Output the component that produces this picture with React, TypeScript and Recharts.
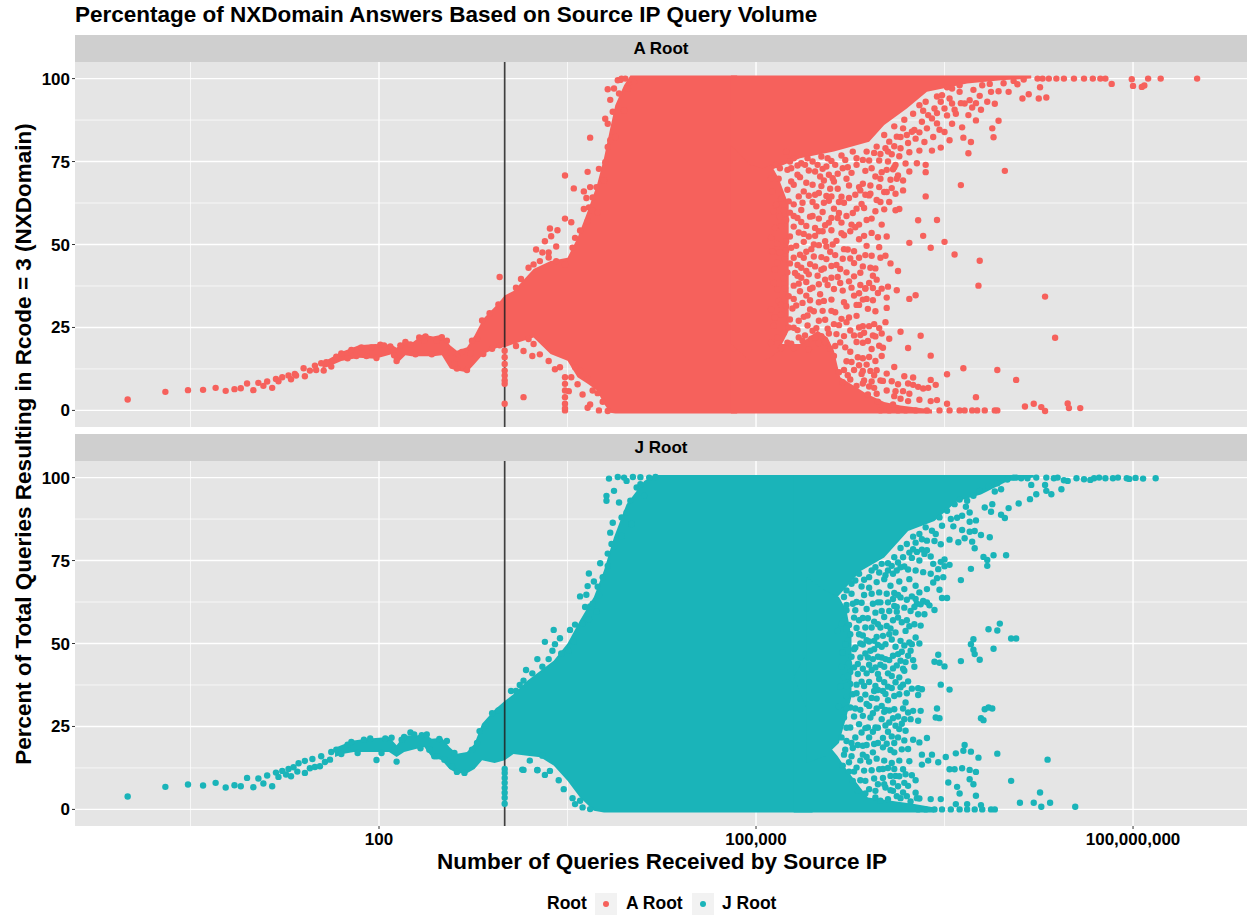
import { ComposedChart, Area, Scatter, XAxis, YAxis, CartesianGrid, ReferenceLine } from 'recharts'

// every row is [log10(queries), percent]; bands are [log10(queries), low, high]
const xTicks = [100, 100000, 100000000]
const xMinor = [3.1623, 3162.3, 3162278]
const yTicks = [0, 25, 50, 75, 100]
const yMinor = [12.5, 37.5, 62.5, 87.5]
const cutoffQueries = 1000

const aCoreBand = [
  [1.55, 12.6, 14.4], [1.6, 13.2, 15.5], [1.7, 14.9, 17.6], [1.84, 15.9, 19.6], [1.97, 15.6, 20], [2.1, 16.9, 19.8], [2.14, 14, 18.9],
  [2.21, 16.6, 21.3], [2.26, 16.3, 20.3], [2.35, 16.3, 22.9], [2.43, 16.3, 22.3], [2.5, 16.6, 22.8], [2.565, 12.6, 19.6],
  [2.62, 12, 18], [2.7, 11.5, 19], [2.76, 14, 22.6], [2.83, 17, 27.6], [2.95, 19, 32.3], [3, 19, 34.6], [3.07, 20, 36],
  [3.23, 22, 42.6], [3.365, 17, 45], [3.5, 15, 46], [3.58, 10, 52], [3.66, 8, 60], [3.735, 6, 68], [3.79, 2, 76],
  [3.84, -0.7, 85], [3.88, -0.9, 92], [3.95, -0.9, 98], [4, -0.9, 100.9], [4.85, -0.9, 100.9],
]
const aTopBand = [
  [4.8, 60, 100.9], [4.98, 68, 100.9], [5.09, 72, 100.9], [5.35, 76, 100.9], [5.62, 78, 100.9], [5.9, 81, 100.9],
  [6.02, 86, 100.9], [6.2, 91, 100.9], [6.36, 96, 100.9], [6.68, 98.5, 100.9], [6.95, 99.5, 100.9], [7.19, 100, 100.9],
]
const aBottomBand = [
  [4.8, -0.9, 42], [4.98, -0.9, 27], [5.09, -0.9, 20], [5.22, -0.9, 20], [5.35, -0.9, 20], [5.49, -0.9, 24], [5.57, -0.9, 22], [5.62, -0.9, 18],
  [5.67, -0.9, 10], [5.88, -0.9, 5], [6.02, -0.9, 2.5], [6.15, -0.9, 1.5], [6.4, -0.9, 0.3],
]
const aMidBand = [[4.8, 20, 80], [4.95, 15, 74], [5.05, 15, 73], [5.12, 16, 74], [5.18, 18, 70], [5.26, 24, 62]]

const aLow = [
  [0, 3.3], [0.3, 5.6], [0.48, 6.1], [0.6, 6.2], [0.7, 6.8], [0.78, 5.9], [0.85, 6.4], [0.9, 6.7], [0.95, 8.1], [1, 6.1],
  [1.04, 8.3], [1.08, 7.4], [1.11, 8.7], [1.15, 6.8], [1.18, 9.5], [1.2, 8.8], [1.23, 10], [1.28, 10.5], [1.3, 9.4], [1.33, 11],
  [1.34, 10.5], [1.4, 12.7], [1.41, 10.3], [1.45, 12], [1.49, 13.5], [1.5, 12.2], [1.54, 14.2], [1.56, 12],
  [1.86, 19], [1.94, 19], [2.01, 19.8], [2.09, 19.3], [2.14, 14.9], [2.21, 20.6], [2.29, 16.9], [2.37, 22.3], [2.42, 16.9],
  [2.5, 22.1], [2.62, 12.6], [2.7, 12.2], [2.63, 16.9], [2.78, 21.6], [2.82, 27.1], [2.88, 29.3], [2.95, 31.9], [2.83, 17],
  [2.9, 18.6], [2.96, 19.6], [2.96, 40.2], [3, 18], [3, 16], [3, 14], [3, 12], [3, 10.5], [3, 9], [3, 8], [3, 2], [3.15, 4],
  [3.48, 10], [3.48, 8], [3.48, 6], [3.48, 4], [3.48, 2], [3.48, 0.6], [3.48, 0],
  [1.58, 14.5], [1.62, 13.2], [1.66, 16.2], [1.7, 17.2], [1.75, 15.7], [1.78, 18.2], [1.82, 16.4], [1.9, 16.4], [1.98, 15.8], [2.04, 19.6],
  [2.12, 16.6], [2.17, 19.6], [2.25, 19.9], [2.32, 22], [2.36, 21], [2.46, 21], [2.54, 21], [2.57, 17.4], [2.6, 14], [2.66, 17.6], [2.73, 17.2], [2.74, 21],
]
const aEdges = [
  [3.82, 96.8], [3.68, 82.2], [3.48, 70.8], [3.66, 71.9], [3.75, 72.8], [3.55, 66.9], [3.63, 66], [3.68, 67.3], [3.73, 67.3],
  [3.65, 64], [3.7, 64.2], [3.67, 61.2], [3.63, 60.7], [3.7, 60.2], [3.74, 59.7], [3.48, 57.8], [3.53, 56.7], [3.36, 54.8],
  [3.42, 54.3], [3.37, 52.5], [3.32, 51], [3.41, 49.4], [3.25, 48.5], [3.3, 47.6], [3.35, 47.6], [3.6, 54.2], [3.56, 52],
  [3.66, 57], [3.54, 49], [3.19, 43], [3.13, 39.6], [3.09, 37], [3.82, 86.4], [3.8, 87.9], [3.9, 99.5], [3.96, 100], [4.03, 99],
  [3.91, 95.5], [3.95, 90.4], [3.84, 81.4], [3.82, 79.4], [3.88, 82.4], [3.8, 74.8], [3.79, 69.3], [3.19, 21.5], [3.23, 20],
  [3.22, 16.4], [3.28, 16.9], [3.35, 14.9], [3.4, 12.4], [3.58, 7.9], [3.51, 5.8], [3.62, 4.8], [3.66, 0.8], [3.75, 0],
  [3.82, -0.2], [3.68, 1.8], [3.09, 19.4], [3.15, 17.9], [3.23, 44], [3.28, 45], [3.35, 46.1], [3.41, 45], [3.48, 44],
  [3.86, 90], [3.84, 93.6], [3.92, 99.6], [3.87, 97], [3.93, 100], [3.98, 97], [3.6, 12], [3.66, 9.5], [3.7, 6], [3.74, 5.2], [3.78, 2.6],
  [3.44, 13], [3.53, 10], [3.56, 13],
]
const aCloud = [
  [5.33, 73.8], [5.42, 72.3], [5.53, 72.8], [5.65, 71.3], [5.73, 73.3], [5.82, 67.3], [5.91, 67.8], [6, 71.8], [6.1, 73.3], [6.12, 69.8],
  [5.9, 64.8], [6.02, 65.8], [5.65, 66.8], [5.74, 67.8], [5.54, 69.3], [5.35, 70.3], [5.18, 69.8], [5.25, 66.5], [5.3, 62.1], [5.22, 60.2],
  [5.42, 64.7], [5.48, 61.5], [5.58, 63.2], [5.62, 60.8], [5.7, 62.6], [5.77, 59.5], [5.84, 62.2], [5.95, 60], [5.88, 57.4], [5.79, 55.2],
  [5.68, 56.6], [5.6, 54.3], [5.5, 57.8], [5.4, 55.6], [5.33, 58], [5.2, 55.5], [5.27, 52.4], [5.38, 50.8], [5.47, 52.6], [5.56, 49.4],
  [5.64, 51.1], [5.73, 48.5], [5.82, 51.6], [5.92, 53.5], [6, 56], [6.04, 52.4], [5.98, 49.2], [5.87, 46.8], [5.78, 44.4], [5.69, 45.7],
  [5.6, 43.5], [5.52, 46.2], [5.43, 44.1], [5.35, 46.9], [5.27, 44.3], [5.19, 47.6], [5.15, 42.5], [5.22, 39.8], [5.31, 41.4], [5.4, 38.7],
  [5.49, 40.6], [5.57, 37.8], [5.65, 40.2], [5.74, 38.9], [5.83, 41.5], [5.91, 43], [5.99, 46], [6.07, 44.3], [5.96, 39.4], [5.87, 36.8],
  [5.78, 34.6], [5.69, 36.1], [5.6, 33.4], [5.51, 35], [5.43, 33.2], [5.35, 35.9], [5.26, 34.4], [5.17, 36.5], [5.12, 30.5], [5.2, 28.8],
  [5.29, 30.7], [5.38, 28.2], [5.46, 29.9], [5.55, 27.3], [5.63, 29.6], [5.72, 31.4], [5.8, 28.5], [5.89, 30.6], [5.85, 25.4], [5.75, 24.1],
  [5.66, 25.7], [5.58, 23.2], [5.48, 24.8], [5.39, 22.6], [5.3, 24.9], [5.22, 23.3], [5.14, 25.5], [5.12, 20.3], [5.2, 18.8], [5.28, 20.1],
  [5.42, 18.4], [5.5, 20.3], [5.59, 18.6], [5.67, 20.5], [5.75, 17.7], [5.8, 20.6], [5.72, 14.8], [5.78, 12.2], [5.81, 16], [5.66, 11.5],
  [5.62, 16.4], [5.69, 8.5], [5.75, 9.3], [5.8, 7.4], [5.86, 9], [5.9, 7.2], [5.24, 78], [5.3, 76], [5.45, 75], [5.52, 76.5], [5.6, 75.2],
  [5.68, 76.8], [5.77, 78], [5.85, 75.5], [5.94, 77.6], [6.03, 79], [5.98, 75.3], [5.92, 73], [5.14, 60], [5.12, 52], [5.17, 50.2],
  [5.24, 48.2], [5.3, 46], [5.36, 43], [5.44, 48.6], [5.55, 55.8], [5.45, 68], [5.38, 66], [5.5, 65.5], [5.25, 72.5], [5.2, 63.8], [5.16, 74],
]
const aCloudExtra = [
  [5.12, 70], [5.19, 73], [5.27, 75], [5.36, 74.5], [5.41, 76], [5.49, 74], [5.57, 76], [5.63, 74], [5.71, 75.5], [5.8, 76], [5.88, 78],
  [5.96, 79.5], [6.06, 81], [6.12, 82.5], [6.17, 85], [6.24, 84], [6.32, 87], [6.37, 89], [6.42, 91], [6.48, 95], [6.54, 94], [6.62, 96],
  [6.66, 92.5], [6.58, 90.6], [6.44, 86.5], [6.3, 83.8], [6.15, 79], [6.08, 77.2], [6.22, 77.8], [6.26, 84.5], [6.36, 85], [6.41, 82.4],
  [6.5, 91], [6.73, 96.6], [6.8, 98], [6.86, 98.4], [6.97, 98.6], [7.05, 99.3], [7.13, 99.7], [5.13, 66], [5.16, 62], [5.19, 58.4], [5.15, 55],
  [5.13, 48], [5.17, 44.6], [5.14, 38.4], [5.18, 33], [5.15, 28], [5.17, 22], [5.2, 31.8], [5.23, 36.8], [5.25, 41.6], [5.23, 45.6], [5.24, 51],
  [5.24, 57.4], [5.26, 63], [5.28, 69], [5.3, 55.4], [5.32, 49.6], [5.33, 43.8], [5.34, 38.2], [5.3, 33.6], [5.34, 27], [5.27, 27.4], [5.25, 20.4],
  [5.34, 22], [5.36, 60.4], [5.38, 53.2], [5.4, 47.8], [5.4, 42], [5.37, 32.4], [5.43, 36.6], [5.43, 30.4], [5.41, 25.6], [5.44, 21.6], [5.45, 58.6],
  [5.47, 55], [5.46, 50], [5.47, 43.4], [5.5, 38], [5.5, 32.6], [5.5, 27], [5.52, 22.4], [5.53, 59.8], [5.53, 54], [5.54, 42.8], [5.55, 51],
  [5.56, 64.6], [5.58, 71], [5.6, 58], [5.6, 40], [5.6, 30], [5.62, 26], [5.63, 46.8], [5.66, 62.8], [5.67, 42.6], [5.7, 52.8], [5.72, 41.6],
  [5.7, 22.4], [5.74, 28], [5.76, 56], [5.78, 40.4], [5.8, 31.8], [5.82, 46], [5.83, 37.8], [5.86, 23.4], [5.88, 33.6], [5.93, 33.2], [5.94, 26],
  [5.92, 18.5], [5.98, 19.5], [5.98, 24.8], [6.03, 26.6], [6.06, 21.6],
]
const aCloudDense = [
  [5.28, 73], [5.33, 71], [5.39, 74], [5.47, 72], [5.51, 70.5], [5.56, 73.5], [5.61, 70], [5.69, 73], [5.76, 71.6], [5.8, 74], [5.87, 72.2], [5.95, 70.5],
  [6.05, 75], [6.07, 69.5], [6.14, 76.6], [6.28, 74.5], [6.22, 72], [5.9, 75.3], [5.99, 77.3], [6.04, 72.5], [5.3, 68], [5.34, 64.5], [5.4, 68.6], [5.47, 65],
  [5.52, 67.6], [5.59, 66.8], [5.62, 69], [5.68, 64.4], [5.72, 69.8], [5.79, 65], [5.87, 65], [5.86, 61], [5.8, 60.8], [5.74, 64], [5.66, 59.5], [5.6, 64.5],
  [5.54, 62.6], [5.45, 62.8], [5.37, 62.6], [5.27, 59.6], [5.96, 63.4], [6.02, 60.6], [6.06, 62.8], [6.08, 67], [5.3, 58.6], [5.36, 56.8], [5.43, 58.4],
  [5.42, 52.4], [5.5, 54], [5.58, 56.6], [5.65, 58], [5.72, 58.6], [5.75, 54], [5.82, 56], [5.86, 52.6], [5.92, 57.8], [5.97, 52.2], [5.68, 53.4], [5.61, 50],
  [5.5, 49.8], [5.34, 53.6], [5.28, 49], [5.33, 40.6], [5.38, 46], [5.42, 41], [5.46, 46.4], [5.56, 45.6], [5.59, 47.8], [5.64, 43.8], [5.7, 48.6], [5.75, 45.8],
  [5.85, 43.4], [5.88, 49.6], [5.92, 46.6], [5.95, 42.8], [6.03, 46.6], [5.78, 48], [5.52, 42.4], [5.67, 38.4], [5.3, 37.6], [5.36, 40], [5.45, 37], [5.54, 33],
  [5.55, 39.4], [5.62, 36.6], [5.7, 32.6], [5.76, 37], [5.82, 31.8], [5.85, 33.4], [5.9, 38.4], [5.93, 40.6], [5.97, 35.4], [6.04, 34], [5.4, 34.6], [5.32, 31.6],
  [5.24, 31.4], [5.26, 25], [5.33, 24.2], [5.41, 28.6], [5.45, 24], [5.53, 30], [5.57, 24.6], [5.64, 23], [5.68, 27.6], [5.72, 26.6], [5.78, 22.6], [5.82, 25],
  [5.85, 20.4], [5.9, 25.4], [5.93, 22.6], [6, 23.2], [5.3, 18.8], [5.37, 21], [5.47, 22], [5.55, 20.6], [5.63, 19.4], [5.71, 19], [5.7, 12.2], [5.73, 10.6],
  [5.76, 14.6], [5.84, 11], [5.82, 13.6], [5.88, 13.8], [5.94, 10.6], [5.99, 9], [5.89, 4.8], [5.96, 5], [6.04, 6], [6.08, 8.8], [6.15, 3.5], [6.17, 5.8],
  [6.22, 5], [6.3, 3.2], [5.92, 8.7], [6.02, 83], [6.1, 85.6], [6.05, 78], [6.18, 87.6], [6.25, 89.4], [6.3, 92], [6.35, 93], [6.44, 94.6], [6.56, 97],
  [6.63, 92.6], [6.62, 98], [6.52, 97.4], [6.4, 88], [6.33, 90.3], [6.2, 83], [6.15, 82.4], [6.1, 79.6], [6.44, 89.6], [6.56, 92.5], [6.72, 91.3], [6.75, 92.6],
  [6.79, 90.6],
]
const aOutliers = [
  [7.24, 100], [7.28, 100], [7.33, 100], [7.39, 100], [7.45, 100], [7.53, 100], [7.61, 100], [7.68, 100], [7.74, 100], [7.78, 100],
  [7.83, 98.4], [7.99, 99.8], [8, 97.8], [8.07, 97.5], [8.09, 97.9], [8.12, 100], [8.22, 100], [8.51, 100], [7.26, 97.4], [7.25, 94],
  [7.31, 94.3], [7.12, 94], [7.17, 95.3], [7.01, 96], [7.08, 98.3], [6.93, 96.2], [6.87, 96], [6.78, 94.8], [6.9, 92.4], [6.84, 93],
  [6.7, 93.5], [6.69, 89], [6.75, 87.4], [6.93, 87.3], [6.88, 85], [6.64, 85.3], [6.89, 82.3], [6.65, 82.2], [6.71, 80.9], [6.69, 77.5],
  [6.56, 86.4], [6.5, 83.9], [6.46, 84.6], [6.54, 81.4], [6.47, 79.2], [6.4, 78.3], [6.34, 80.9], [6.27, 81.9], [6.21, 80.6], [6.3, 78.3],
  [6.59, 89.4], [6.52, 88.9], [6.47, 93], [6.98, 72.2], [6.63, 67.9], [6.35, 74], [6.35, 71.8], [6.35, 64.5], [6.19, 74.4], [6.11, 74],
  [6.09, 72.7], [6.13, 70.8], [6.17, 69.3], [6.17, 66.3], [6.11, 65.3], [6.04, 65.8], [5.99, 69.8], [5.98, 67.3], [5.91, 65.3], [5.85, 68.3],
  [5.83, 66.3], [5.99, 62.8], [6.14, 60.7], [6.11, 60.3], [6.29, 57.3], [6.44, 57.4], [6.33, 52.6], [6.22, 50.5], [6.39, 49], [6.5, 50.8],
  [6.58, 47], [6.78, 45.1], [6.13, 42], [6.77, 37.6], [6.27, 34.7], [6.22, 33.6], [6.12, 36.2], [6.05, 37.3], [6, 36.7], [5.93, 36.9],
  [5.87, 36.7], [5.82, 35.3], [5.95, 29.9], [6.04, 30.9], [7.3, 34.3], [7.38, 21.9], [6.15, 23.7], [6.31, 22.5], [5.95, 22.3], [5.83, 22.7],
  [5.89, 20.9], [6.21, 18.8], [6.39, 16.5], [6.01, 18.9], [6, 16.4], [5.9, 16.1], [5.85, 15.7], [5.95, 14.9], [6.1, 13.1], [5.96, 12.1],
  [5.91, 11.9], [5.85, 11.9], [6.04, 11.1], [6.52, 10.9], [6.65, 12.7], [6.92, 12.2], [7.07, 9.2], [6.18, 10.3], [6.25, 9.9], [6.39, 9.2],
  [6.21, 8.1], [6.25, 7.7], [6.29, 7.1], [6.33, 6.6], [6.37, 6.8], [6.43, 7.7], [6.13, 7.9], [6.11, 5.8], [6.1, 4.3], [6.01, 8.9],
  [5.94, 6.8], [5.85, 8.1], [5.97, 2.6], [6.21, 2.8], [6.09, 1.8], [6.39, 2.8], [6.44, 3.1], [6.75, 4], [5.99, 0], [6.06, 0], [6.13, 0],
  [6.19, 0], [6.27, 0], [6.36, 0], [6.46, 0], [6.54, 0], [6.62, 0], [6.66, 0], [6.72, 0], [6.76, 0], [6.82, 0], [6.9, 0], [6.92, 0],
  [7.14, 1.2], [7.21, 2], [7.27, 1], [7.3, -0.2], [7.48, 2.1], [7.49, 0.7], [7.58, 0.7], [6.52, 2],
]

const jCoreBand = [
  [1.65, 15.8, 18.6], [1.72, 16.8, 19.6], [1.8, 17.3, 20.8], [1.9, 17.3, 21.3], [2, 17.3, 21.6], [2.08, 17.3, 21.8], [2.14, 15.8, 19.3],
  [2.2, 17.3, 22.3], [2.3, 18.3, 22.3], [2.36, 18.8, 22.8], [2.42, 15.8, 21.3], [2.5, 14.8, 21.6], [2.56, 12.2, 18.8], [2.62, 10.9, 16.8],
  [2.7, 10.9, 17.3], [2.76, 12.2, 19.8], [2.82, 14.8, 25.8], [2.92, 14, 30], [3, 14.8, 32.7], [3.07, 16.7, 34.7], [3.18, 16.2, 38.8],
  [3.285, 15.7, 41.8], [3.39, 13.2, 44.8], [3.5, 8.6, 50], [3.6, 3.6, 57], [3.71, -0.4, 64], [3.79, -0.9, 72], [3.87, -0.9, 82],
  [3.97, -0.9, 92], [4.11, -0.9, 99], [4.19, -0.9, 100.8], [5.45, -0.9, 100.8],
]
const jTopBand = [
  [5.3, 40, 100.8], [5.45, 50, 100.8], [5.62, 62.8, 100.8], [5.83, 71.8, 100.8], [6.02, 75.9, 100.8], [6.21, 83.9, 100.8],
  [6.42, 86.9, 100.8], [6.6, 92.9, 100.8], [6.79, 94.9, 100.8], [7, 98.9, 100.8], [7.21, 100, 100.8],
]
const jBottomBand = [
  [5.3, -0.9, 40], [5.45, -0.9, 26], [5.52, -0.9, 22], [5.65, -0.9, 16], [5.72, -0.9, 12], [5.89, -0.9, 3.6], [6.26, -0.9, 1.6], [6.42, -0.9, 0.6],
]
const jMidBand = [[5.4, 14, 70], [5.55, 16, 66], [5.66, 20, 64], [5.72, 28, 60], [5.76, 34, 52]]

const jLow = [
  [0, 3.9], [0.3, 6.8], [0.48, 7.5], [0.6, 7.2], [0.7, 8], [0.78, 6.6], [0.85, 7.3], [0.9, 7], [0.95, 9.5], [1, 6.7], [1.04, 9.3],
  [1.08, 7.8], [1.11, 10.2], [1.15, 7], [1.18, 11.1], [1.2, 9.8], [1.23, 11.6], [1.26, 10.5], [1.28, 12.2], [1.3, 10], [1.32, 12.7],
  [1.35, 11.4], [1.36, 13.9], [1.41, 11], [1.41, 14.6], [1.45, 12.4], [1.47, 15.2], [1.49, 12.8], [1.53, 13], [1.54, 16], [1.57, 14.3],
  [1.62, 17.3], [1.61, 15], [1.98, 14.9], [2.14, 14.4], [2.25, 23.2], [2.95, 29.8], [3, 12.2], [3, 11], [3, 9.5], [3, 8], [3, 6.5],
  [3, 5], [3, 3.5], [3, 1.7], [3.14, 12], [3.26, 11.9], [1.75, 19.5], [1.88, 21], [2.05, 21.4], [2.2, 21.8], [2.34, 22.4], [2.48, 21.2],
  [2.62, 11.3], [2.68, 11], [2.58, 13], [2.78, 20], [2.85, 25.2], [2.9, 29], [2.33, 18.4], [2.44, 16], [2.52, 15],
  [1.66, 18], [1.7, 16.7], [1.78, 20.3], [1.83, 17], [1.93, 21.4], [2.02, 17], [2.1, 21.6], [2.12, 18], [2.18, 21], [2.28, 22.6], [2.38, 22.6],
  [2.4, 18], [2.46, 16], [2.54, 20.6], [2.6, 17], [2.74, 18], [2.8, 23.6],
]
const jEdges = [
  [3.83, 99.7], [3.9, 100.2], [3.97, 99], [3.81, 94.5], [3.81, 93], [3.87, 96], [3.91, 92.5], [3.86, 86.4], [3.84, 83.4], [3.93, 82.4],
  [3.87, 79.4], [3.82, 77.1], [3.76, 74.2], [3.82, 73.4], [3.67, 71.1], [3.71, 68.7], [3.66, 67.3], [3.74, 67.1], [3.6, 64.2], [3.65, 64.7],
  [3.75, 64.6], [3.64, 61], [3.68, 61.2], [3.73, 59.6], [3.67, 57.3], [3.56, 55.7], [3.39, 54.1], [3.52, 54.1], [3.44, 51.6], [3.32, 50.5],
  [3.4, 49.8], [3.38, 47.8], [3.51, 47.8], [3.26, 45.3], [3.35, 45.3], [3.17, 42], [3.05, 35.7], [3.09, 35.7], [3.15, 38.8], [4.11, 94.5],
  [4.05, 97], [3.97, 89.5], [4.01, 86], [3.15, 11.9], [3.26, 11.8], [3.32, 10.4], [3.2, 14.7], [3.3, 16.2], [3.36, 11.6], [3.43, 8.8],
  [3.47, 6.1], [3.54, 3.4], [3.56, 1.6], [3.62, 0.6], [3.68, 0.1], [3.6, 2.6], [3.78, 70], [3.85, 80], [3.93, 88], [4, 93], [4.08, 98], [4.15, 100],
  [4.2, 100.2], [3.7, 62], [3.62, 56], [3.55, 50.5], [3.45, 47], [3.3, 43], [3.22, 41], [3.12, 37.5], [3.95, 100], [4.02, 100.2], [4.08, 100.1],
]
const jCloud = [
  [6.02, 69.4], [6.07, 67.4], [6.14, 68.7], [6.22, 69.4], [6.27, 67.4], [6.36, 66.4], [6.3, 65.4], [6.18, 66.4], [6.15, 63.9], [6.05, 62.4],
  [6.1, 61.3], [5.99, 62.4], [6.27, 63.4], [6.23, 59.8], [6.18, 60.8], [6.13, 57.8], [6.06, 59.8], [5.95, 59.3], [6.34, 58.8], [6.29, 58.8],
  [6.26, 55.8], [6.19, 53.8], [6.27, 51.8], [6.22, 50.3], [6.23, 47.8], [6.21, 46.3], [6.15, 44.8], [6.09, 46.3], [6.11, 49], [6.15, 50.8],
  [6.11, 53.3], [6.06, 52.8], [6.01, 52.3], [5.97, 55.8], [5.99, 54.8], [5.87, 54.8], [5.78, 57.8], [5.7, 56.8], [5.65, 53.8], [5.75, 52.8],
  [5.82, 52.8], [5.94, 50.8], [6.03, 49.8], [5.94, 48.3], [5.89, 45.8], [6, 45.8], [6.03, 45.3], [5.93, 45.3], [5.83, 45.8], [5.78, 48.3],
  [5.69, 47.3], [5.73, 50.8], [5.81, 40.8], [5.95, 42.8], [5.99, 43.6], [6.09, 42.5], [6.18, 41.8], [6.14, 39.8], [6.11, 38.3], [6.21, 38.6],
  [5.98, 39.3], [6.02, 38.3], [5.95, 37.2], [5.86, 37.2], [5.75, 37.8], [5.7, 39.8], [5.81, 43.8], [6.01, 35.7], [5.94, 35.7], [6.14, 34.7],
  [6.1, 34.2], [6.05, 32.9], [6, 31.2], [5.9, 31.2], [5.83, 33.2], [5.77, 34.7], [5.75, 30.7], [5.85, 28.2], [5.91, 27.7], [6, 27.2],
  [6.06, 26.2], [6.1, 30.2], [6.21, 29.2], [6.25, 29.7], [6.31, 29.7], [6.18, 27.2], [6.23, 27.2], [6.29, 26.7], [6.11, 25.2], [6.14, 24.2],
  [6.19, 23.7], [6.13, 21.7], [6.01, 21.5], [5.89, 24.7], [5.82, 25.7], [5.75, 24.7], [5.7, 27.7], [5.68, 21.7], [5.79, 21.7], [5.9, 21.7],
  [5.85, 19.2], [5.94, 19.7], [6.01, 18.7], [6.07, 17.9], [6.16, 18.1], [6.21, 18.2], [5.93, 17.2], [5.83, 14.7], [5.74, 14.2], [5.69, 13.2],
  [5.86, 11.7], [5.98, 12.1], [6.05, 12.5], [6.14, 14.7], [6.17, 12.1], [6.11, 10.1], [6.07, 10.1], [6.19, 10.6], [6.24, 10.3], [6.27, 8.8],
  [6.21, 7.1], [6.09, 8.1], [5.94, 9.3], [5.97, 7.6], [5.83, 8.8], [5.77, 8.6], [6.09, 5.6], [6.17, 5.1], [5.9, 6.1], [5.95, 3.6], [6.05, 3.1],
  [6.15, 3.4], [5.99, 2.6], [6.23, 2.4], [5.72, 60], [5.8, 62.5], [5.88, 60.4], [5.92, 65], [5.84, 67.2], [5.76, 65], [5.68, 43], [5.74, 44],
  [5.72, 34], [5.66, 31], [5.8, 37.6], [5.88, 41], [5.9, 50.6], [5.85, 49.7], [5.71, 18], [5.77, 18.5], [5.87, 34.6], [5.96, 33.4], [6.05, 41],
  [6.09, 57], [5.92, 54.8], [6.02, 58], [5.98, 65.4], [6.1, 65.2],
]
const jCloudExtra = [
  [5.7, 64], [5.76, 68], [5.82, 71], [5.9, 70], [5.95, 73], [6, 74], [6.05, 74.2], [6.1, 76], [6.15, 78.8], [6.2, 80], [6.25, 82.2], [6.3, 83],
  [6.35, 85], [6.4, 84], [6.46, 88], [6.52, 90], [6.58, 92], [6.62, 93.4], [6.68, 93], [6.73, 94.5], [6.78, 96], [6.85, 97.4], [6.92, 98.3], [7, 99.4],
  [7.07, 100], [6.12, 72], [6.18, 73.2], [6.24, 75.8], [6.3, 75], [6.34, 77], [6.39, 76.2], [6.03, 70.6], [6.09, 71], [5.96, 68.5], [5.9, 66.8],
  [6.33, 71.5], [6.39, 71], [6.41, 74], [6.38, 61.5], [6.33, 62.8], [6.24, 64.2], [6.2, 57], [6.28, 62], [6.3, 50], [6.18, 49.4], [6.25, 45], [6.12, 43.4],
  [6.05, 37], [5.96, 30.4], [5.79, 30.4], [5.84, 38.5], [5.9, 38.4], [5.92, 42], [5.75, 41.4], [5.79, 48.8], [5.82, 57], [5.89, 57.6], [5.93, 62],
  [5.84, 62.3], [5.77, 62], [5.74, 55.6], [5.67, 37], [5.72, 24.6], [5.78, 28], [5.87, 24.5], [5.95, 24.7], [6.05, 23.4], [6.08, 22], [6.17, 30.4],
  [6.2, 35], [6.17, 37.6], [6.06, 29.8], [6.02, 29.4], [5.85, 16.5], [5.9, 14.4], [5.96, 15.3], [6.02, 14.7], [6.08, 14], [6.1, 20], [6.25, 21], [6.22, 14.5],
  [6.18, 8], [6.13, 7], [6.03, 6.6], [6.01, 9.5], [5.87, 8.6], [5.78, 11.4], [5.7, 16.5], [5.97, 46], [6.07, 54.5], [5.96, 52], [5.88, 51], [6.16, 47.5],
  [6.12, 61], [6.26, 43],
]
const jCloudDense = [
  [5.72, 66], [5.79, 69], [5.86, 69.2], [5.92, 72], [5.98, 71.4], [6.05, 72], [6.15, 73], [6.21, 72.3], [6.27, 72], [6.28, 77.6], [6.36, 81], [6.43, 83],
  [6.48, 85.5], [6.55, 87.5], [6.6, 87.9], [6.67, 91.2], [6.32, 78.3], [6.22, 77.4], [6.17, 76], [6.13, 74.4], [6.08, 73.4], [5.86, 64.6], [5.72, 61.6],
  [5.79, 60], [5.85, 57.7], [5.97, 62.4], [6, 59.8], [6.04, 65], [6.09, 63.4], [6.13, 64.6], [6.2, 63.2], [6.26, 61], [6.31, 61.8], [6.36, 62.4], [6.12, 59.6],
  [6.16, 56.4], [6.22, 55.2], [6.31, 55.4], [6.04, 55.3], [6.08, 51.2], [6, 49], [5.97, 49.6], [5.91, 47.8], [5.87, 47], [5.83, 50], [5.76, 46], [5.71, 49.7],
  [5.68, 56], [5.72, 54.4], [5.8, 54.7], [5.85, 52.4], [5.94, 56.6], [5.73, 40.2], [5.78, 42.8], [5.85, 42.4], [5.9, 43.6], [5.97, 40.8], [6.02, 43], [6.06, 45],
  [6.13, 46.8], [6.19, 44.4], [6.24, 49.8], [6.17, 42.4], [6.08, 40.2], [6.15, 36.8], [6.24, 36.4], [6.19, 32.2], [6.08, 36.6], [6.03, 34.8], [5.97, 36],
  [5.92, 33.6], [5.88, 31.8], [5.8, 35], [5.72, 30.4], [5.72, 37.2], [5.83, 30], [5.93, 29], [6.03, 30], [6.13, 28], [6.16, 25.8], [6.09, 27.5], [6.03, 25.3],
  [5.97, 24.6], [5.93, 23.4], [5.84, 23.2], [5.72, 20.6], [5.76, 20], [5.81, 19.4], [5.88, 19.4], [5.97, 20], [6.04, 19.8], [6.1, 17.2], [6.18, 20.8], [5.88, 15.8],
  [5.8, 12.6], [5.74, 11.4], [5.76, 16], [5.92, 11.8], [6.01, 12.2], [6.1, 12.2], [6.14, 10], [6.02, 7.6], [5.95, 5.6], [6.07, 5.8], [5.81, 5.6], [5.87, 4.8],
  [6.12, 4], [6.2, 4], [6.28, 3.4], [6.27, 5],
]
const jOutliers = [
  [7.55, 99.8], [7.61, 99.5], [7.66, 99.3], [7.69, 99.8], [7.73, 100], [7.78, 99.8], [7.84, 99.8], [7.88, 100], [7.95, 99.8], [7.97, 99.6],
  [8.02, 99.9], [8.08, 99.7], [8.18, 99.8], [7.4, 100], [7.45, 99.2], [7.48, 99], [7.37, 99.8], [7.31, 100], [7.23, 100], [7.16, 99.8],
  [7.11, 99.8], [7.05, 100], [7.19, 97.8], [7.3, 97.8], [7.31, 96], [7.35, 95], [7.43, 96.5], [7.23, 95], [7.18, 93.5], [7.09, 92.2],
  [7.01, 90.8], [6.95, 96.5], [6.9, 95.8], [6.88, 92], [6.87, 89.7], [6.95, 88.8], [6.98, 87.8], [6.82, 91], [6.7, 89.5], [6.64, 88.5],
  [6.7, 86.7], [6.75, 87.1], [6.57, 85.3], [6.64, 84.2], [6.7, 83.7], [6.74, 83.9], [6.79, 82.7], [6.86, 82], [6.66, 81.7], [6.72, 80.7],
  [6.61, 80.5], [6.74, 78.7], [6.54, 81.3], [6.47, 79.9], [6.42, 80.9], [6.32, 81.4], [6.27, 80.4], [6.36, 78.1], [6.25, 78.4], [6.81, 76.1],
  [6.89, 76.6], [6.99, 76.6], [6.84, 75.2], [6.84, 73.4], [6.5, 75.3], [6.47, 74.6], [6.54, 73.7], [6.5, 73.3], [6.71, 72.5], [6.45, 72.4],
  [6.63, 69.1], [6.49, 70], [6.44, 69.7], [6.41, 68.4], [6.46, 66.2], [6.52, 63.7], [6.48, 63.7], [6.42, 60.1], [6.94, 56], [6.85, 54.3],
  [6.92, 53.9], [7.03, 51.5], [7.07, 51.5], [6.73, 51.3], [6.71, 49.8], [6.73, 48.1], [6.74, 46.8], [6.78, 45.1], [6.89, 48.4], [6.63, 44.7],
  [6.45, 46.6], [6.42, 44.5], [6.46, 44.2], [6.5, 43.1], [6.47, 37.6], [6.54, 36.1], [6.29, 36.5], [6.32, 36.2], [6.29, 34.5], [6.44, 30.4],
  [6.43, 27.7], [6.46, 27.5], [6.82, 30.2], [6.85, 30.7], [6.88, 30.4], [6.79, 27.5], [6.81, 26.9], [6.36, 21.5], [6.3, 20.2], [6.66, 19.4],
  [6.65, 17.7], [6.71, 17.4], [6.59, 16.9], [6.77, 15.6], [6.92, 16.8], [7.32, 15], [6.51, 15.8], [6.4, 16.5], [6.32, 16.5], [6.32, 13.5],
  [6.37, 14.7], [6.45, 14.2], [6.54, 12.1], [6.58, 12.1], [6.64, 12.4], [6.7, 11.9], [6.75, 11.3], [6.7, 9.1], [6.73, 7.6], [6.53, 8.1],
  [6.6, 6.8], [6.62, 4.8], [6.75, 4.1], [7.03, 8.6], [7.26, 5.1], [7.1, 2], [7.21, 2], [7.34, 2], [7.27, 0.8], [7.54, 0.8], [6.29, 0], [6.35, 0],
  [6.42, 0], [6.48, 0], [6.55, 0], [6.62, 0], [6.68, 0], [6.74, 0], [6.8, 0], [6.87, 0], [6.9, 0], [6.39, 3.1], [6.47, 3.1], [6.59, 1.6],
  [6.68, 1.6], [6.79, 1.3], [6.3, 3.3],
]

const RED = '#F6615C'
const TEAL = '#1AB4B9'
const FONT = '"Liberation Sans", Arial, sans-serif'
const xDomain = [0.381, 807000000]

const toBand = (rows: number[][]) => rows.map(([q, lo, hi]) => ({ x: 10 ** q, range: [lo, hi] }))
const toPoints = (rows: number[][]) => rows.map(([q, y]) => ({ x: 10 ** q, y }))
const tickStyle = { fontSize: 17, fontWeight: 700, fill: '#000', fontFamily: FONT }

function Panel({ color, bands, points, bottom }: { color: string; bands: number[][][]; points: number[][]; bottom?: boolean }) {
  const dot = (p: any) => <circle cx={p.cx} cy={p.cy} r={3.2} fill={color} />
  return (
    <ComposedChart width={1247} height={bottom ? 395 : 365} margin={{ top: 0, right: 0, bottom: 0, left: 23 }}>
      <CartesianGrid fill="#E5E5E5" stroke="#fff" strokeWidth={1.4} verticalValues={xTicks} horizontalValues={yTicks} />
      <CartesianGrid stroke="#fff" strokeWidth={0.7} verticalValues={xMinor} horizontalValues={yMinor} />
      <XAxis
        dataKey="x"
        type="number"
        scale="log"
        domain={xDomain}
        allowDataOverflow
        ticks={xTicks}
        hide={!bottom}
        height={30}
        axisLine={false}
        tickSize={3}
        tickMargin={4}
        tickLine={{ stroke: '#333' }}
        tick={tickStyle}
        tickFormatter={(v: number) => v.toLocaleString('en-US')}
      />
      <YAxis
        dataKey="y"
        type="number"
        domain={[-5, 105]}
        allowDataOverflow
        ticks={yTicks}
        width={52}
        axisLine={false}
        tickSize={3}
        tickLine={{ stroke: '#333' }}
        tick={tickStyle}
      />
      {bands.map((b, i) => (
        <Area key={i} data={toBand(b)} dataKey="range" type="linear" stroke="none" fill={color} fillOpacity={1} dot={false} activeDot={false} isAnimationActive={false} />
      ))}
      <Scatter data={toPoints(points)} dataKey="y" shape={dot} isAnimationActive={false} />
      <ReferenceLine x={cutoffQueries} stroke="#222" strokeWidth={1.7} strokeOpacity={0.85} />
    </ComposedChart>
  )
}

const label = { position: 'absolute', fontFamily: FONT, fontWeight: 700, color: '#000', whiteSpace: 'nowrap', lineHeight: 1 } as const

function Strip({ top, text }: { top: number; text: string }) {
  return (
    <div style={{ ...label, left: 75, top, width: 1172, height: 27, background: '#CFCFCF', fontSize: 17, lineHeight: '28px', textAlign: 'center' }}>{text}</div>
  )
}

function LegendKey({ left, color }: { left: number; color: string }) {
  return (
    <svg style={{ position: 'absolute', left, top: 893 }} width={22} height={22}>
      <rect width={22} height={22} fill="#F2F2F2" />
      <circle cx={11} cy={11} r={3} fill={color} />
    </svg>
  )
}

export default function App() {
  return (
    <div style={{ position: 'absolute', left: 0, top: 0, width: 1247, height: 915, background: '#fff', overflow: 'hidden' }}>
      <div style={{ ...label, left: 75, top: 4, fontSize: 22.5 }}>Percentage of NXDomain Answers Based on Source IP Query Volume</div>
      <Strip top={35} text="A Root" />
      <Strip top={434} text="J Root" />
      <div style={{ position: 'absolute', left: 0, top: 62 }}>
        <Panel color={RED} bands={[aCoreBand, aTopBand, aBottomBand, aMidBand]} points={[...aLow, ...aEdges, ...aCloud, ...aCloudExtra, ...aCloudDense, ...aOutliers]} />
      </div>
      <div style={{ position: 'absolute', left: 0, top: 461 }}>
        <Panel bottom color={TEAL} bands={[jCoreBand, jTopBand, jBottomBand, jMidBand]} points={[...jLow, ...jEdges, ...jCloud, ...jCloudExtra, ...jCloudDense, ...jOutliers]} />
      </div>
      <div style={{ ...label, left: 662, top: 851, fontSize: 22.5, transform: 'translateX(-50%)' }}>Number of Queries Received by Source IP</div>
      <div style={{ ...label, left: 24, top: 444, fontSize: 22.5, transform: 'translate(-50%,-50%) rotate(-90deg)' }}>Percent of Total Queries Resulting in Rcode = 3 (NXDomain)</div>
      <div style={{ ...label, left: 547, top: 895, fontSize: 17.5 }}>Root</div>
      <LegendKey left={595} color={RED} />
      <div style={{ ...label, left: 626, top: 895, fontSize: 17.5 }}>A Root</div>
      <LegendKey left={692} color={TEAL} />
      <div style={{ ...label, left: 722, top: 895, fontSize: 17.5 }}>J Root</div>
    </div>
  )
}
